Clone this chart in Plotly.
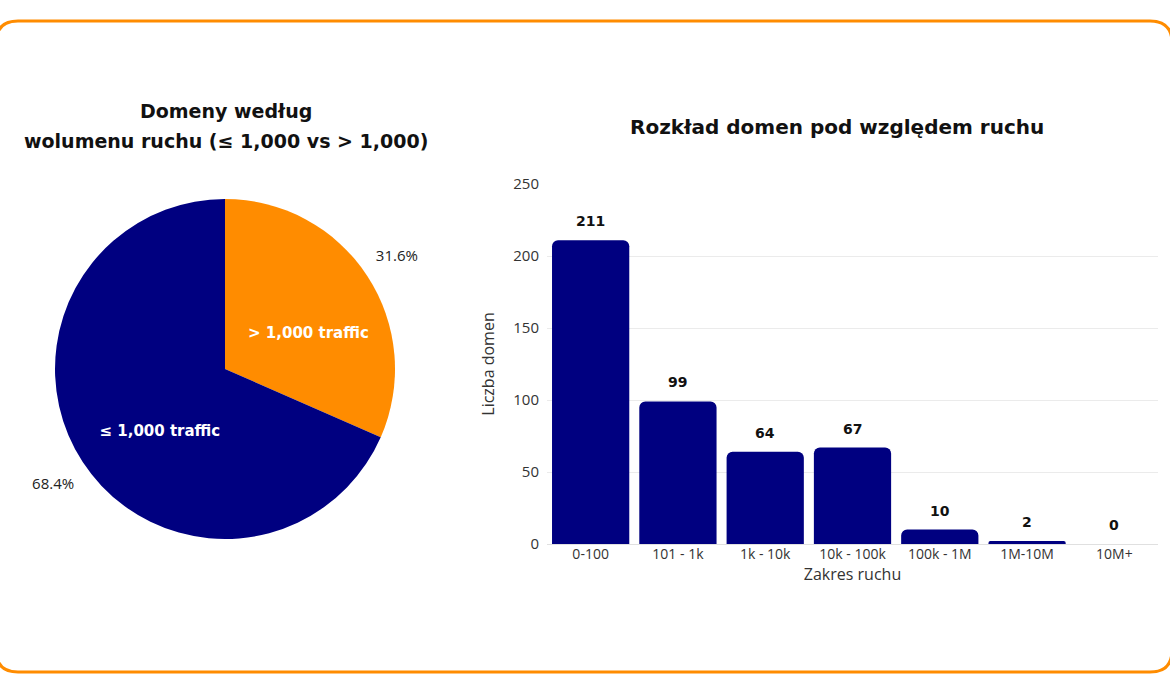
import plotly.graph_objects as go

# ---- data ----
pie_labels = ["> 1,000 traffic", "≤ 1,000 traffic"]
pie_values = [143, 310]
pie_colors = ["#FF8C00", "#000080"]

bar_categories = ["0-100", "101 - 1k", "1k - 10k", "10k - 100k", "100k - 1M", "1M-10M", "10M+"]
bar_values = [211, 99, 64, 67, 10, 2, 0]
bar_color = "#000080"

pie_title_lines = ["Domeny według", "wolumenu ruchu (≤ 1,000 vs > 1,000)"]
bar_title = "Rozkład domen pod względem ruchu"
x_title = "Zakres ruchu"
y_title = "Liczba domen"

W, H = 1170, 694
TITLE_FONT = "DejaVu Sans"
BODY_FONT = "Open Sans"

def px(x):
    return x / W

def py(y):
    return 1 - y / H

def dom(cx, cy, r):
    return dict(x=[px(cx - r), px(cx + r)], y=[py(cy + r), py(cy - r)])

fig = go.Figure()

# visible pie
fig.add_trace(go.Pie(
    labels=pie_labels, values=pie_values, sort=False, direction="clockwise",
    rotation=0, marker=dict(colors=pie_colors, line=dict(width=0)),
    textinfo="none",
    domain=dom(225, 369, 170), showlegend=False, hoverinfo="skip",
))
# transparent overlay carrying the outside percentages
fig.add_trace(go.Pie(
    labels=pie_labels, values=pie_values, sort=False, direction="clockwise",
    rotation=-4, marker=dict(colors=["rgba(0,0,0,0)"] * 2, line=dict(width=0)),
    textinfo="percent", textposition="outside", texttemplate="%{percent:.1%}",
    textfont=dict(family=BODY_FONT, size=15, color="#222222"),
    domain=dom(225, 369, 183), showlegend=False, hoverinfo="skip",
))
# transparent overlay carrying the inside labels
fig.add_trace(go.Pie(
    labels=pie_labels, values=pie_values, sort=False, direction="clockwise",
    rotation=0, marker=dict(colors=["rgba(0,0,0,0)"] * 2, line=dict(width=0)),
    textinfo="label", textposition="inside", insidetextorientation="horizontal",
    textfont=dict(family=TITLE_FONT, size=15, color="white", weight="bold"),
    domain=dom(231, 384, 170), showlegend=False, hoverinfo="skip",
))

fig.add_trace(go.Bar(
    x=bar_categories, y=bar_values,
    marker=dict(color=bar_color, cornerradius=6, line=dict(width=0)),
    showlegend=False, hoverinfo="skip",
))

value_annotations = [
    dict(x=c, y=v, xref="x", yref="y", text=str(v), showarrow=False,
         yanchor="middle", yshift=19,
         font=dict(family=TITLE_FONT, size=14, color="#111111", weight="bold"))
    for c, v in zip(bar_categories, bar_values)
]

title_annotations = [
    dict(text=t, x=px(226), y=py(yy), xref="paper", yref="paper", showarrow=False,
         xanchor="center", yanchor="middle",
         font=dict(family=TITLE_FONT, size=19, color="#111111", weight="bold"))
    for t, yy in zip(pie_title_lines, [111, 141])
] + [
    dict(text=bar_title, x=px(837), y=py(127), xref="paper", yref="paper", showarrow=False,
         xanchor="center", yanchor="middle",
         font=dict(family=TITLE_FONT, size=20, color="#111111", weight="bold")),
]

fig.update_layout(
    width=W, height=H, margin=dict(l=0, r=0, t=0, b=0, pad=0, autoexpand=False),
    paper_bgcolor="white", plot_bgcolor="white",
    showlegend=False,
    bargap=0.115,
    xaxis=dict(domain=[px(547), px(1158)], showgrid=False, showline=False, ticks="", automargin=False,
               tickfont=dict(family=BODY_FONT, size=14, color="#333333"),
               title=dict(text=x_title, font=dict(family=BODY_FONT, size=16, color="#333333"), standoff=4)),
    yaxis=dict(domain=[py(544), py(184)], range=[0, 250], dtick=50, automargin=False,
               showgrid=True, gridcolor="#ebebeb", gridwidth=1,
               zeroline=True, zerolinecolor="#e0e0e0", zerolinewidth=1,
               showline=False, ticks="", ticklabelstandoff=7,
               tickfont=dict(family=BODY_FONT, size=15, color="#333333"),
               title=dict(text=y_title, font=dict(family=BODY_FONT, size=16, color="#333333"), standoff=14)),
    annotations=title_annotations + value_annotations,
    shapes=[
        dict(type="path", xref="paper", yref="paper",
             path=(f"M {px(18)},{py(21)} L {px(1150)},{py(21)} Q {px(1172)},{py(21)} {px(1172)},{py(43)} "
                   f"L {px(1172)},{py(650)} Q {px(1172)},{py(672)} {px(1150)},{py(672)} "
                   f"L {px(18)},{py(672)} Q {px(-4)},{py(672)} {px(-4)},{py(650)} "
                   f"L {px(-4)},{py(43)} Q {px(-4)},{py(21)} {px(18)},{py(21)} Z"),
             line=dict(color="#FF8C00", width=3), fillcolor="rgba(0,0,0,0)", layer="above"),
    ],
)

fig.write_html("out.html", config={"displayModeBar": False},
               post_script="document.body.style.margin='0';document.body.style.overflow='hidden';")
